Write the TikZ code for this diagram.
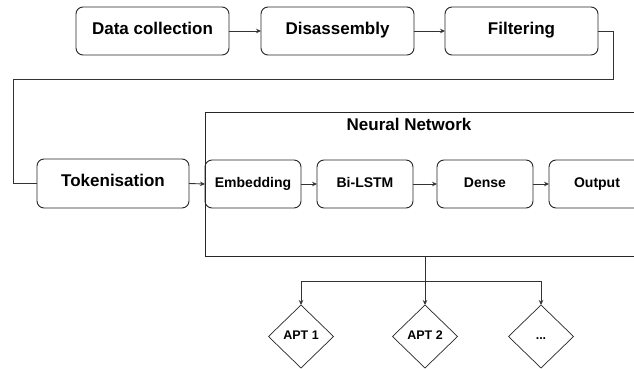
\documentclass[tikz,border=0pt]{standalone}
\usepackage{fontspec}
\setmainfont{Liberation Sans}
\usetikzlibrary{shapes.geometric,arrows.meta}
\begin{document}
\begin{tikzpicture}[x=1pt,y=-1pt,
  every node/.style={inner sep=0pt,outer sep=0pt},
  txt/.style={text height=0.8em,text depth=0.15em},
  bigbox/.style={txt,draw=black!85,line width=0.9pt,rounded corners=7pt,minimum width=153pt,minimum height=48pt,font=\fontsize{17}{20}\selectfont\bfseries},
  smallbox/.style={txt,draw=black!85,line width=0.9pt,rounded corners=7pt,minimum width=96pt,minimum height=48pt,font=\fontsize{14}{17}\selectfont\bfseries},
  apt/.style={txt,draw=black!85,line width=0.7pt,diamond,minimum width=65pt,minimum height=63pt,font=\fontsize{12.5}{15}\selectfont\bfseries},
  conn/.style={draw=black!80,line width=0.9pt},
  arr/.style={conn,-{Stealth[length=5pt,width=4.5pt]}}
]
\clip (0,0) rectangle (634,369);
\fill[white] (0,0) rectangle (634,369);
% top row
\node[bigbox] (dc) at (152.5,31) {Data collection};
\node[bigbox] (dis) at (337.5,31) {Disassembly};
\node[bigbox] (fil) at (521.5,31) {Filtering};
\draw[arr] (dc) -- (dis);
\draw[arr] (dis) -- (fil);
% neural network container
\node[draw=black!85,line width=0.9pt,minimum width=470pt,minimum height=144pt,anchor=north west] (nn) at (205,112) {};
\node[txt,font=\fontsize{17}{20}\selectfont\bfseries] (nnt) at (409,127) {Neural Network};
% second row
\node[bigbox,minimum width=152pt,minimum height=49pt] (tok) at (113,183.5) {Tokenisation};
\node[smallbox] (emb) at (253,184) {Embedding};
\node[smallbox] (lstm) at (365,184) {Bi-LSTM};
\node[smallbox] (den) at (485,184) {Dense};
\node[smallbox] (out) at (597,184) {Output};
\coordinate (c1) at (613,31);
\coordinate (c2) at (613,79);
\coordinate (c3) at (13,79);
\coordinate (c4) at (13,183.5);
\draw[conn] (fil.east) -- (c1) -- (c2) -- (c3) -- (c4) -- (tok.west);
\draw[arr] (tok.east) -- (emb.west);
\draw[arr] (emb) -- (lstm);
\draw[arr] (lstm) -- (den);
\draw[arr] (den) -- (out);
% APT outputs
\node[apt] (a1) at (301,336.5) {APT 1};
\node[apt] (a2) at (425,336.5) {APT 2};
\node[apt] (a3) at (541,336.5) {...};
\coordinate (nb) at (425,256);
\coordinate (br) at (425,281);
\draw[arr] (nb) -- (a2.north);
\draw[arr] (br) -| (a1.north);
\draw[arr] (br) -| (a3.north);
\end{tikzpicture}
\end{document}
